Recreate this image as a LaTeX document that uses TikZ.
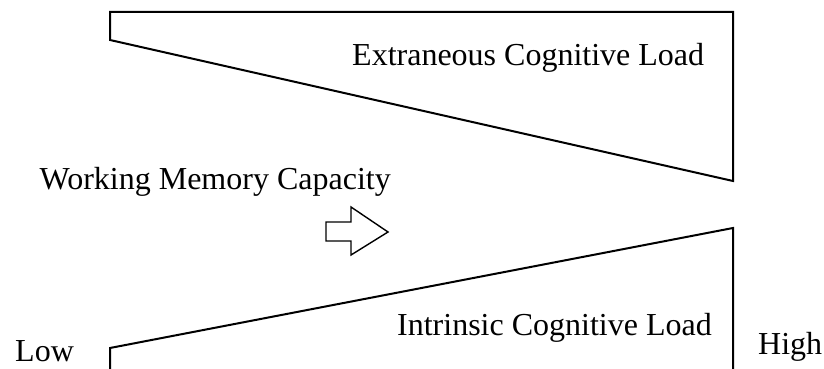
\documentclass[tikz,border=0pt]{standalone}
\usepackage{fontspec}
\setmainfont{Liberation Serif}
\begin{document}
\begin{tikzpicture}[x=1pt,y=1pt,
  shapeline/.style={line width=2pt,line join=miter},
  arrowline/.style={line width=1.4pt,line join=miter},
  lbl/.style={inner sep=0pt,font=\fontsize{32}{38}\selectfont}]
\useasboundingbox (0,0) rectangle (824,369);
% top wedge (extraneous)
\draw[shapeline] (110,357) -- (733,357) -- (733,188) -- (110,329) -- cycle;
% bottom wedge (intrinsic)
\draw[shapeline] (110,-2) -- (110,21) -- (733,141) -- (733,-2);
% block arrow
\draw[arrowline] (326,147) -- (351,147) -- (351,162) -- (388,137) -- (351,114) -- (351,128) -- (326,128) -- cycle;
\node[lbl,anchor=base west] (ext) at (352,303) {Extraneous Cognitive Load};
\node[lbl,anchor=base east] (intr) at (712,33) {Intrinsic Cognitive Load};
\node[lbl,anchor=base east] (wmc) at (391,179) {Working Memory Capacity};
\node[lbl,anchor=base west] (low) at (15,7) {Low};
\node[lbl,anchor=base west] (high) at (758,14) {High};
\end{tikzpicture}
\end{document}
